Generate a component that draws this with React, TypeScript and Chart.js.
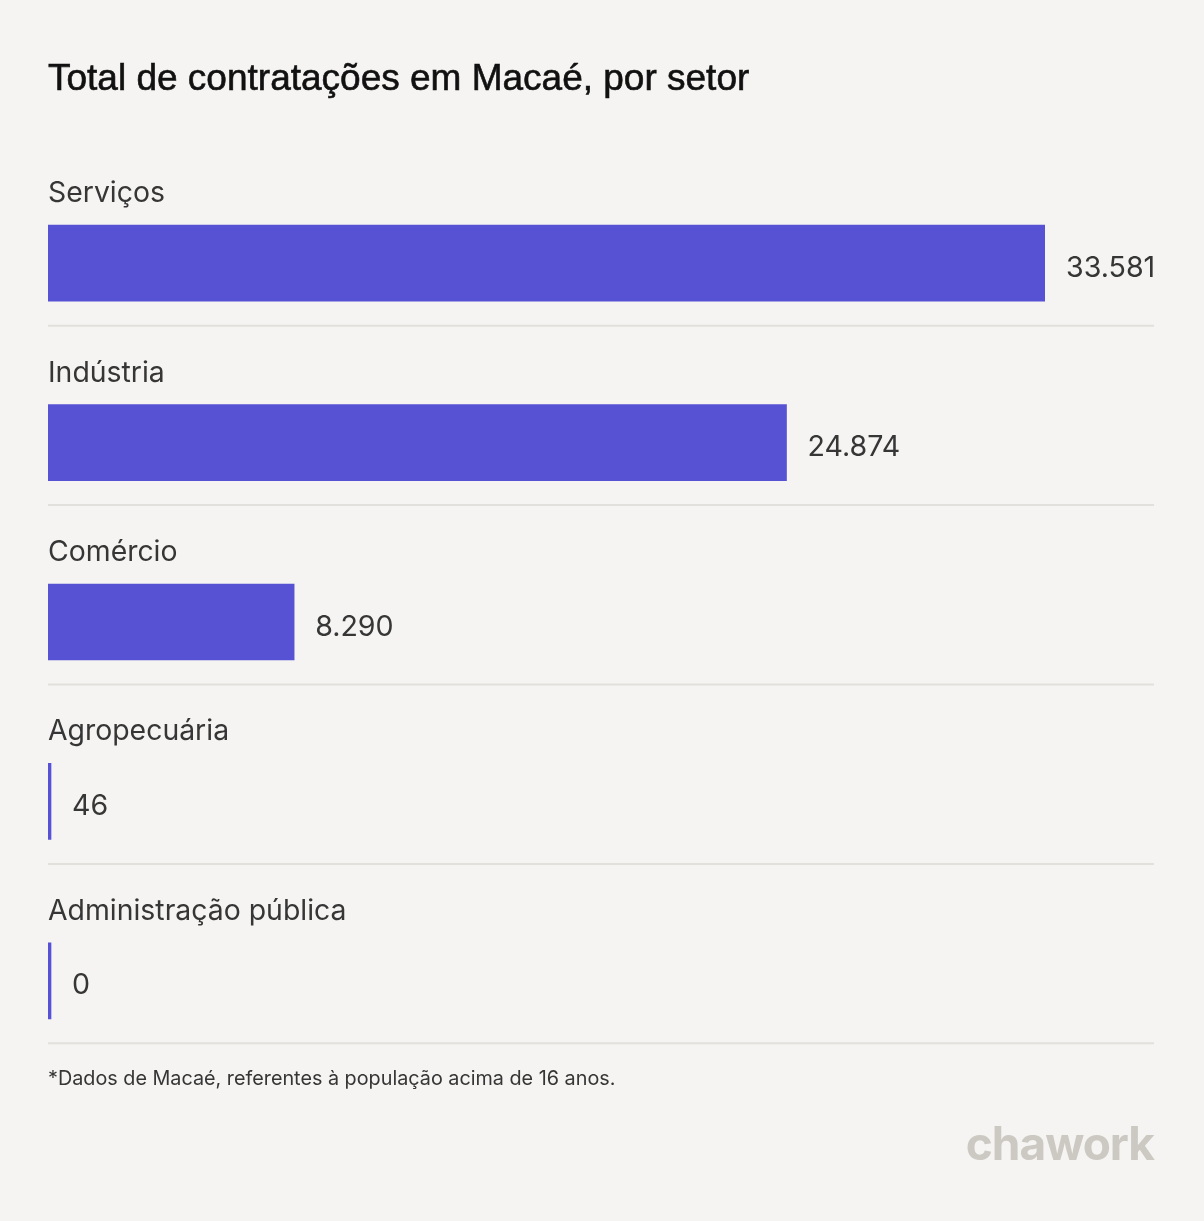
import React, { useEffect, useRef } from "react";
import { Chart, registerables } from "chart.js";

Chart.register(...registerables);

const categories = ["Serviços", "Indústria", "Comércio", "Agropecuária", "Administração pública"];
const values = [33581, 24874, 8290, 46, 0];
const valueLabels = ["33.581", "24.874", "8.290", "46", "0"];

const TITLE = "Total de contratações em Macaé, por setor";
const NOTE = "*Dados de Macaé, referentes à população acima de 16 anos.";

const BG = "#f5f4f2";
const BAR = "#5752d4";
const TEXT = "#363636";
const SEP = "#e2e0dc";

const labelsPlugin = {
  id: "labelsPlugin",
  afterDatasetsDraw(chart: any) {
    const ctx = chart.ctx;
    const meta = chart.getDatasetMeta(0);
    ctx.save();
    ctx.fillStyle = TEXT;
    meta.data.forEach((bar: any, i: number) => {
      const { x, y, base, height } = bar.getProps(["x", "y", "base", "height"], true);
      const top = y - height / 2;
      const bottom = y + height / 2;
      const end = Math.max(x, base);
      ctx.font = "28.4px Inter";
      ctx.textBaseline = "alphabetic";
      ctx.textAlign = "left";
      ctx.fillText(categories[i], 48, top - 23);
      ctx.font = "28.6px Inter";
      ctx.textBaseline = "middle";
      ctx.fillText(valueLabels[i], end + 21, y + 5);
      ctx.strokeStyle = SEP;
      ctx.lineWidth = 2;
      ctx.beginPath();
      ctx.moveTo(48, bottom + 24.5);
      ctx.lineTo(1154, bottom + 24.5);
      ctx.stroke();
    });
    ctx.restore();
  },
};

export default function App() {
  const ref = useRef<HTMLCanvasElement | null>(null);
  useEffect(() => {
    document.body.style.margin = "0";
    const chart = new Chart(ref.current as HTMLCanvasElement, {
      type: "bar",
      data: {
        labels: categories,
        datasets: [
          {
            data: values,
            backgroundColor: BAR,
            barThickness: 76,
            minBarLength: 3,
            borderWidth: 0,
          },
        ],
      },
      options: {
        indexAxis: "y",
        responsive: false,
        animation: false,
        layout: { padding: { left: 48, right: 159, top: 173.5, bottom: 150.5 } },
        plugins: { legend: { display: false }, tooltip: { enabled: false }, title: { display: false } },
        scales: {
          x: { display: false, min: 0, max: Math.max(...values) },
          y: { display: false },
        },
      },
      plugins: [labelsPlugin],
    } as any);
    return () => chart.destroy();
  }, []);

  return (
    <div style={{ position: "absolute", left: 0, top: 0, width: 1204, height: 1221, background: BG, overflow: "hidden" }}>
      <canvas ref={ref} width={1204} height={1221} style={{ position: "absolute", left: 0, top: 0 }} />
      <div
        style={{
          position: "absolute",
          left: 48,
          top: 59,
          fontFamily: "'Liberation Sans', Arial, sans-serif",
          fontSize: 37,
          lineHeight: "37px",
          color: "#111",
          WebkitTextStroke: "0.6px #111",
          whiteSpace: "nowrap",
        }}
      >
        {TITLE}
      </div>
      <div
        style={{
          position: "absolute",
          left: 48,
          top: 1068,
          fontFamily: "Inter, sans-serif",
          fontSize: 19.8,
          lineHeight: "20px",
          color: TEXT,
          whiteSpace: "nowrap",
        }}
      >
        {NOTE}
      </div>
      <div
        style={{
          position: "absolute",
          right: 50,
          top: 1120,
          fontFamily: "Inter, sans-serif",
          fontWeight: 700,
          fontSize: 46,
          lineHeight: "46px",
          letterSpacing: "-1px",
          color: "#cbc9c2",
          whiteSpace: "nowrap",
        }}
      >
        chawork
      </div>
    </div>
  );
}
